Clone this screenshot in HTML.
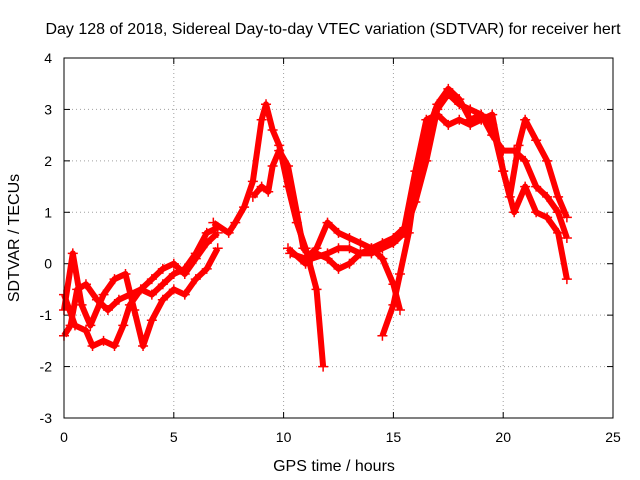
<!DOCTYPE html>
<html><head><meta charset="utf-8">
<style>
html,body{margin:0;padding:0;background:#fff;}
svg{display:block;font-family:"Liberation Sans",sans-serif;}
</style></head>
<body>
<svg id="chart" width="640" height="480" viewBox="0 0 640 480" xmlns="http://www.w3.org/2000/svg">
<text x="333" y="34" font-size="16" text-anchor="middle">Day 128 of 2018, Sidereal Day-to-day VTEC variation (SDTVAR) for receiver hert</text>
<text x="334" y="471" font-size="16" text-anchor="middle">GPS time / hours</text>
<text x="0" y="0" font-size="16" text-anchor="middle" transform="translate(19,238) rotate(-90)">SDTVAR / TECUs</text>
<g id="grid"></g>
<g id="axes"></g>
<g id="series"></g>
<rect x="64" y="58" width="549" height="360" fill="none" stroke="#000" stroke-width="1"/>
</svg>
<script>
const xTicks=[0,5,10,15,20,25];
const yTicks=[-3,-2,-1,0,1,2,3,4];
const s1=[[0,-1.4],[0.3,-1.2],[0.6,-0.5],[1,-0.4],[1.5,-0.7],[2,-0.9],[2.5,-0.7],[3,-0.6],[3.5,-0.5],[4,-0.6],[4.5,-0.4],[5,-0.2],[5.5,-0.1],[6,0.2],[6.5,0.6],[7,0.7]];
const s2=[[0,-0.6],[0.5,-1.2],[1,-1.3],[1.3,-1.6],[1.8,-1.5],[2.3,-1.6],[2.7,-1.2],[3,-0.8],[3.5,-0.5],[4,-0.3],[4.5,-0.1],[5,0],[5.5,-0.2],[6,0.1],[6.5,0.4],[7,0.6]];
const s3=[[0,-0.9],[0.4,0.2],[0.8,-0.8],[1.2,-1.2],[1.8,-0.6],[2.3,-0.3],[2.8,-0.2],[3.2,-0.9],[3.6,-1.6],[4,-1.1],[4.5,-0.7],[5,-0.5],[5.5,-0.6],[6,-0.3],[6.5,-0.1],[7,0.3]];
const s4=[[6.8,0.8],[7.5,0.6],[7.8,0.8],[8.2,1.1],[8.6,1.6],[9,2.8],[9.2,3.1],[9.5,2.6],[9.8,2.3],[10.2,1.5],[10.6,0.8],[11,0.3],[11.5,-0.5],[11.8,-2]];
const s5=[[8.6,1.3],[9,1.5],[9.3,1.4],[9.5,1.9],[9.8,2.2],[10.2,1.9],[10.6,1.0],[10.9,0.3],[11.3,0.1],[12,0.2],[12.5,0.3],[13,0.3],[13.5,0.2],[14,0.2],[14.5,0.3],[15,0.4],[15.5,0.6],[16,1.2],[16.5,2],[17,3],[17.5,3.3],[18,3.1],[18.5,3],[19,2.9],[19.5,2.5],[20,2.2],[20.5,2.2],[21,2.0],[21.5,1.5],[22,1.3],[22.5,1],[22.9,0.5]];
const s6=[[10.3,0.2],[11,0.1],[11.5,0.3],[12,0.8],[12.5,0.6],[13,0.5],[13.5,0.4],[14,0.3],[14.5,0.1],[15,-0.4],[15.3,-0.9]];
const s7=[[14.5,-1.4],[15,-0.8],[15.3,-0.2],[15.7,0.6],[16,1.5],[16.5,2.5],[17,3.1],[17.5,3.4],[18,3.2],[18.5,2.8],[19,2.9],[19.5,2.7],[20,1.8],[20.3,1.3],[20.7,2.3],[21,2.8],[21.5,2.4],[22,2],[22.5,1.3],[22.9,0.9]];
const s8=[[10.2,0.3],[11,0],[11.5,0.2],[12,0.1],[12.5,-0.1],[13,0],[13.5,0.2],[14,0.3],[14.5,0.4],[15,0.5],[15.5,0.7],[16,1.8],[16.5,2.8],[17,2.9],[17.5,2.7],[18,2.8],[18.5,2.7],[19,2.8],[19.5,2.9],[20,1.8],[20.5,1.0],[21,1.5],[21.5,1.0],[22,0.9],[22.5,0.6],[22.9,-0.3]];
const seriesList=[s1,s2,s3,s4,s5,s6,s7,s8];
const X0=64,X1=613,Y0=418,Y1=58,xmin=0,xmax=25,ymin=-3,ymax=4;
function xs(v){return X0+(v-xmin)/(xmax-xmin)*(X1-X0);}
function ys(v){return Y0-(v-ymin)/(ymax-ymin)*(Y0-Y1);}
const NS="http://www.w3.org/2000/svg";
function mk(t,a,p){const e=document.createElementNS(NS,t);for(const k in a)e.setAttribute(k,a[k]);p.appendChild(e);return e;}
const grid=document.getElementById('grid'),axes=document.getElementById('axes'),ser=document.getElementById('series');
xTicks.forEach(v=>{const x=xs(v);
 if(v>xmin&&v<xmax){const g=mk('line',{x1:x,y1:Y0,x2:x,y2:Y1,stroke:'#a0a0a0','stroke-dasharray':'1,3'},grid);}
 const t=mk('line',{x1:x,y1:Y0,x2:x,y2:Y0-6,stroke:'#000'},axes);
 const t2=mk('line',{x1:x,y1:Y1,x2:x,y2:Y1+6,stroke:'#000'},axes);
 const l=mk('text',{x:x,y:442,'font-size':'14','text-anchor':'middle'},axes);l.textContent=v;});
yTicks.forEach(v=>{const y=ys(v);
 if(v>ymin&&v<ymax){const g=mk('line',{x1:X0,y1:y,x2:X1,y2:y,stroke:'#a0a0a0','stroke-dasharray':'1,3'},grid);}
 const t=mk('line',{x1:X0,y1:y,x2:X0+6,y2:y,stroke:'#000'},axes);
 const t2=mk('line',{x1:X1,y1:y,x2:X1-6,y2:y,stroke:'#000'},axes);
 const l=mk('text',{x:52,y:y+5,'font-size':'14','text-anchor':'end'},axes);l.textContent=v;});
seriesList.forEach((s,i)=>{
 const g=mk('g',{},ser);
 const pl=mk('polyline',{points:s.map(p=>xs(p[0])+','+ys(p[1])).join(' '),fill:'none',stroke:'#f00','stroke-width':'6','stroke-linejoin':'round'},g);
 
 s.forEach(p=>{const x=xs(p[0]),y=ys(p[1]);
  const m=mk('path',{d:`M${x-5},${y}H${x+5}M${x},${y-5}V${y+5}`,stroke:'#f00','stroke-width':'1.5'},g);
  });
});
</script>
</body></html>
